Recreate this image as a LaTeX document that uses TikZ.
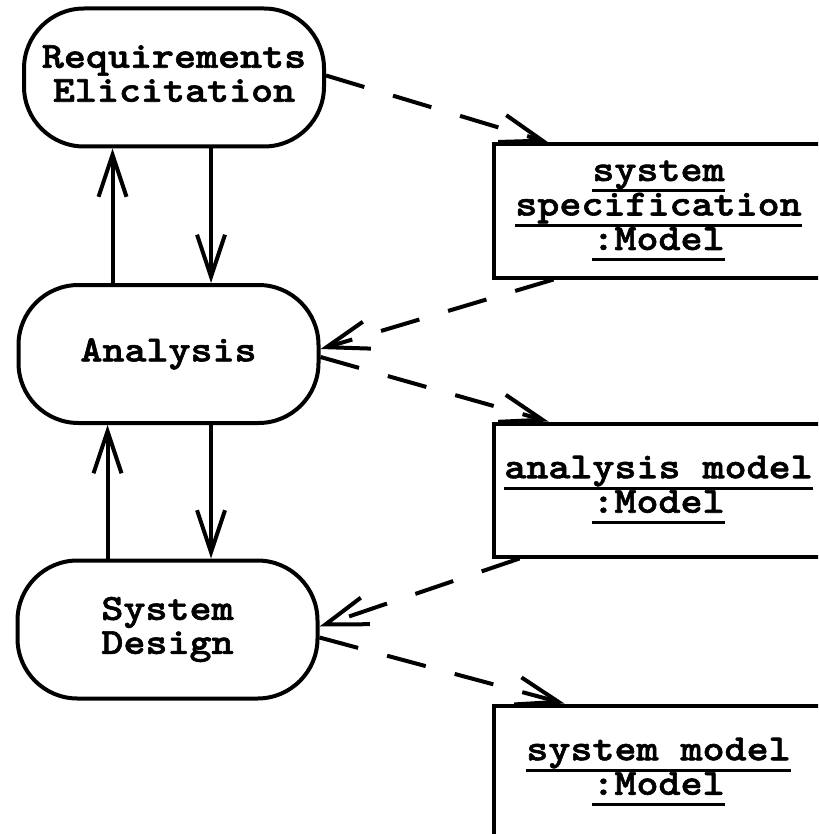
\documentclass[tikz,border=0pt]{standalone}
\usepackage{fontspec}
\newfontfamily\diagfont{lmmonolt10-bold.otf}[FakeStretch=1.14,FakeBold=1.6]
\usetikzlibrary{arrows.meta,positioning}
\newcommand{\objul}[1]{\setbox0=\hbox{#1}\rlap{\rule[-11.5pt]{\wd0}{3pt}}\box0}
\tikzset{
  activity/.style={draw,line width=4pt,rounded corners=60pt,minimum width=300pt,
    minimum height=138pt,align=center,inner sep=0pt,
    font=\diagfont\fontsize{36.8pt}{34pt}\selectfont},
  object/.style={draw,line width=4pt,minimum width=330pt,minimum height=133pt,
    align=center,inner sep=0pt,
    font=\diagfont\fontsize{36.8pt}{34.5pt}\selectfont},
  flow/.style={line width=4pt,-{Straight Barb[length=42pt,width=28pt]}},
  uses/.style={flow,dash pattern=on 40pt off 30pt}
}
\begin{document}
\begin{tikzpicture}[x=1pt,y=-1pt]
   \clip (0,0) rectangle (818,834);
   \node[activity] (req) at (174,77.5) {Requirements\\Elicitation\rule[-8pt]{0pt}{0pt}};
   \node[activity] (ana) at (168.5,354) {Analysis};
   \node[activity] (des) at (167.5,629.5) {System\\Design};
   \node[object] (spec) at (658.5,211) {\objul{system}\\\objul{specification}\\\objul{:Model}};
   \node[object] (amod) at (658.5,490) {\objul{analysis model}\\\objul{:Model}};
   \node[object] (smod) at (658.5,772) {\objul{system model}\\\objul{:Model}};
   \path[flow]
   ([xshift=-56pt]ana.north) edge ([xshift=-61.5pt]req.south)
   ([xshift=37pt]req.south) edge ([xshift=42.5pt]ana.north)
   ([xshift=-60pt]des.north) edge ([xshift=-61pt]ana.south)
   ([xshift=42.5pt]ana.south) edge ([xshift=43.5pt]des.north);
   \path[uses]
   ([yshift=2pt]req.east) edge ([xshift=57pt]spec.north west)
   ([xshift=62pt]spec.south west) edge ([yshift=5pt]ana.east)
   ([yshift=-3pt]ana.east) edge ([xshift=57pt]amod.north west)
   ([xshift=28pt]amod.south west) edge ([yshift=3pt]des.east)
   ([yshift=-8pt]des.east) edge ([xshift=73pt]smod.north west);
\end{tikzpicture}
\end{document}
